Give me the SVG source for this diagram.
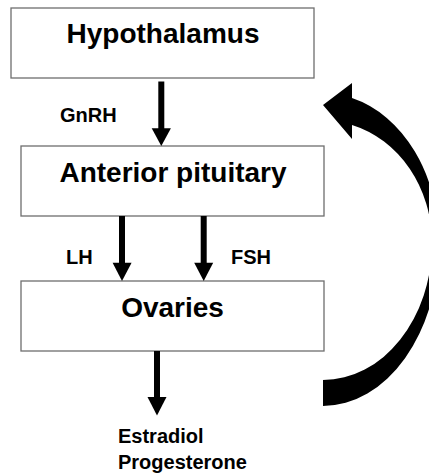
<svg xmlns="http://www.w3.org/2000/svg" width="429" height="474" viewBox="0 0 429 474">
<defs>
<style>
.box{fill:#ffffff;stroke:#6e6e6e;stroke-width:1.3}
.title{font-family:"Liberation Sans",Arial,sans-serif;font-weight:bold;font-size:28px;fill:#000;text-anchor:middle}
.lbl{font-family:"Liberation Sans",Arial,sans-serif;font-weight:bold;font-size:20px;fill:#000}
.shaft{stroke:#000;stroke-width:6;fill:none}
.head{fill:#000}
</style>
</defs>
<rect width="429" height="474" fill="#ffffff"/>
<g id="hypothalamus">
<rect class="box" x="11" y="8" width="303" height="70"/>
<text class="title" x="163" y="43">Hypothalamus</text>
</g>
<g id="anterior-pituitary">
<rect class="box" x="21" y="146" width="303" height="70"/>
<text class="title" x="173" y="182">Anterior pituitary</text>
</g>
<g id="ovaries">
<rect class="box" x="21" y="281" width="303" height="70"/>
<text class="title" x="172.5" y="317">Ovaries</text>
</g>
<g id="hormones">
<text class="lbl" x="118" y="443">Estradiol</text>
<text class="lbl" x="118" y="469">Progesterone</text>
</g>
<g id="connectors">
<line class="shaft" x1="161.3" y1="81.5" x2="161.3" y2="129"/>
<polygon class="head" points="151.7,128.3 170.9,128.3 161.3,146"/>
<text class="lbl" x="60" y="122">GnRH</text>
<line class="shaft" x1="122" y1="216" x2="122" y2="264"/>
<polygon class="head" points="112.6,262.7 131.6,262.7 122,281"/>
<text class="lbl" x="66" y="264">LH</text>
<line class="shaft" x1="203.7" y1="216" x2="203.7" y2="264"/>
<polygon class="head" points="194.2,262.7 213.2,262.7 203.7,281"/>
<text class="lbl" x="231" y="264">FSH</text>
<line class="shaft" x1="157" y1="351" x2="157" y2="398"/>
<polygon class="head" points="147.5,397 166.5,397 157,415.5"/>
<path class="head" d="M323,406 L323,380 A109,137 0 0 0 432,243 A109,122.4 0 0 0 352,125 L352,139 L323,105 L352,83 L352,98 A116,149.8 0 0 1 439,243 A116,163 0 0 1 323,406 Z"/>
</g>
</svg>
